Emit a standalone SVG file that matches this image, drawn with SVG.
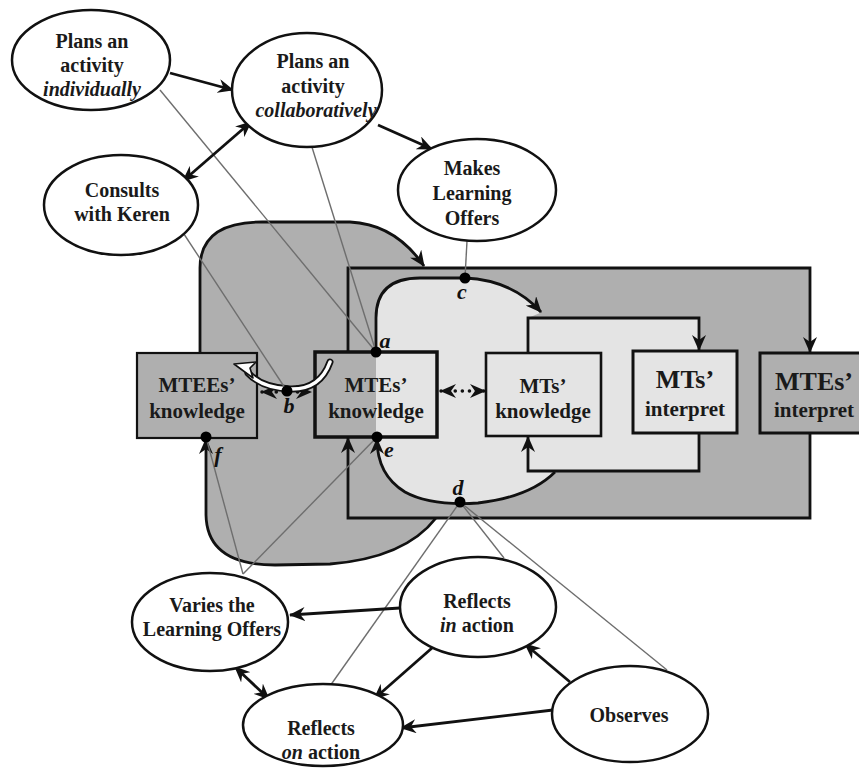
<svg xmlns="http://www.w3.org/2000/svg" width="859" height="780" viewBox="0 0 859 780">
<style>
.t{font-family:'Liberation Serif','DejaVu Serif',serif;font-weight:bold;font-size:20px;fill:#1a1a1a;text-anchor:middle}
.b{font-size:21px}
.big{font-size:26px}
.i{font-style:italic}
.lbl{font-family:'Liberation Serif','DejaVu Serif',serif;font-weight:bold;font-style:italic;font-size:22px;fill:#111;text-anchor:middle}
.ell{fill:#fff;stroke:#111;stroke-width:2.5}
.thin{fill:none;stroke:#6e6e6e;stroke-width:1.4}
.arr{fill:none;stroke:#111;stroke-width:2.8;marker-end:url(#ah)}
.dbl{fill:none;stroke:#111;stroke-width:2.8;marker-end:url(#ah);marker-start:url(#ahs)}
.dot{fill:#000}
</style>
<defs>
<marker id="ah" markerWidth="16" markerHeight="14" refX="15" refY="7" orient="auto" markerUnits="userSpaceOnUse"><path d="M0,0 L16,7 L0,14 L5,7 Z" fill="#111"/></marker>
<marker id="ahs" markerWidth="16" markerHeight="14" refX="15" refY="7" orient="auto-start-reverse" markerUnits="userSpaceOnUse"><path d="M0,0 L16,7 L0,14 L5,7 Z" fill="#111"/></marker>
</defs>
<rect width="859" height="780" fill="#fff"/>

<g id="regions">
<path d="M200,353 V268 Q200,222 262,222 L350,222 Q395,224 425,268 L348,268 L348,518 L436,518 Q405,558 330,564 L275,565 Q207,565 206,515 L206,438 Z" fill="#afafaf"/>
<rect x="348" y="268" width="462" height="250" fill="#afafaf"/>
<path d="M376,437 V318 Q376,278 420,278 L465,278 Q512,280 540,313 L528,318 H699 V471 H555 Q530,497 478,503 Q430,506 405,492 Q377,475 376,437 Z" fill="#e4e4e4"/>
</g>

<g id="mtees-knowledge"><rect x="137" y="353" width="120" height="85" fill="#afafaf" stroke="#111" stroke-width="2.2"/>
<text class="t b" x="197" y="392">MTEEs’</text><text class="t b" x="197" y="418">knowledge</text></g>
<g id="mtes-knowledge"><rect x="315" y="352" width="122" height="85" fill="none" stroke="#111" stroke-width="3.5"/>
<text class="t b" x="376" y="392">MTEs’</text><text class="t b" x="376" y="418">knowledge</text></g>
<g id="mts-knowledge"><rect x="486" y="353" width="115" height="83" fill="#e4e4e4" stroke="#111" stroke-width="2.6"/>
<text class="t b" x="543" y="393">MTs’</text><text class="t b" x="543" y="418">knowledge</text></g>
<g id="mts-interpret"><rect x="633" y="351" width="104" height="82" fill="#e4e4e4" stroke="#111" stroke-width="3"/>
<text class="t big" x="685" y="388">MTs’</text><text class="t b" x="685" y="416">interpret</text></g>
<g id="mtes-interpret"><rect x="760" y="353" width="104" height="80" fill="#afafaf" stroke="#111" stroke-width="3"/>
<text class="t big" x="814" y="390">MTEs’</text><text class="t b" x="814" y="417">interpret</text></g>

<g id="connectors">
<path class="arr" d="M200,353 V268 Q200,222 262,222 L350,222 Q395,224 424,266"/>
<path class="arr" d="M436,518 Q405,558 330,564 L275,565 Q207,565 206,515 L206,439"/>
<path class="arr" d="M348,352 V268 H810 V352"/>
<path class="arr" d="M810,433 V518 H348 V438"/>
<path class="arr" d="M376,352 V318 Q376,278 420,278 L465,278 Q512,280 541,312"/>
<path class="arr" d="M555,472 Q530,497 478,503 Q430,506 405,492 Q377,475 377,439"/>
<path class="arr" d="M528,353 V318 H699 V350"/>
<path class="arr" d="M699,433 V471 H528 V437"/>
<path d="M262,392 H311" fill="none" stroke="#111" stroke-width="3.5" stroke-dasharray="0.1 7" stroke-linecap="round" marker-start="url(#ahs)" marker-end="url(#ah)"/>
<path d="M441,391 H485" fill="none" stroke="#111" stroke-width="3.5" stroke-dasharray="0.1 7" stroke-linecap="round" marker-start="url(#ahs)" marker-end="url(#ah)"/>
<path d="M330,362 Q320,390 290,389 Q262,388 248,373" fill="none" stroke="#111" stroke-width="7" stroke-linecap="round"/>
<path d="M330,362 Q320,390 290,389 Q262,388 248,373" fill="none" stroke="#fff" stroke-width="3.5" stroke-linecap="round"/>
<path d="M234,364 L256,362 L250,368 L253,378 Z" fill="#fff" stroke="#111" stroke-width="1.6" stroke-linejoin="round"/>
<line class="thin" x1="160" y1="90" x2="376" y2="352"/>
<line class="thin" x1="311" y1="144" x2="376" y2="352"/>
<line class="thin" x1="180" y1="228" x2="287" y2="391"/>
<line class="thin" x1="467" y1="241" x2="465" y2="278"/>
<line class="thin" x1="243" y1="574" x2="206" y2="437"/>
<line class="thin" x1="243" y1="574" x2="377" y2="437"/>
<line class="thin" x1="330" y1="686" x2="460" y2="502"/>
<line class="thin" x1="504" y1="558" x2="460" y2="502"/>
<line class="thin" x1="667" y1="670" x2="460" y2="502"/>
<path class="arr" d="M170,73 L233,90"/>
<path class="arr" d="M378,125 L432,149"/>
<path class="dbl" d="M183,181 L251,122"/>
<path class="arr" d="M400,608 L290,615"/>
<path class="arr" d="M432,648 L374,699"/>
<path class="dbl" d="M235,667 L269,699"/>
<path class="arr" d="M570,682 L525,644"/>
<path class="arr" d="M553,710 L401,728"/>
</g>

<g id="points">
<circle class="dot" cx="376" cy="352" r="5.5"/><text class="lbl" x="385" y="348">a</text>
<circle class="dot" cx="287" cy="391" r="5.5"/><text class="lbl" x="289" y="413">b</text>
<circle class="dot" cx="465" cy="278" r="5.5"/><text class="lbl" x="462" y="299">c</text>
<circle class="dot" cx="460" cy="502" r="5.5"/><text class="lbl" x="458" y="495">d</text>
<circle class="dot" cx="377" cy="437" r="5.5"/><text class="lbl" x="389" y="457">e</text>
<circle class="dot" cx="206" cy="437" r="5.5"/><text class="lbl" x="218" y="462">f</text>
</g>

<g id="plans-individually"><ellipse class="ell" cx="91" cy="60" rx="79" ry="50"/>
<text class="t" x="92" y="48">Plans an</text><text class="t" x="92" y="72">activity</text><text class="t i" x="92" y="96">individually</text></g>
<g id="plans-collaboratively"><ellipse class="ell" cx="307" cy="90" rx="75" ry="57"/>
<text class="t" x="313" y="68">Plans an</text><text class="t" x="313" y="93">activity</text><text class="t i" x="316" y="117">collaboratively</text></g>
<g id="consults"><ellipse class="ell" cx="121" cy="205" rx="77" ry="50"/>
<text class="t" x="122" y="197">Consults</text><text class="t" x="122" y="221">with Keren</text></g>
<g id="makes-offers"><ellipse class="ell" cx="477" cy="190" rx="79" ry="51"/>
<text class="t" x="472" y="175">Makes</text><text class="t" x="472" y="200">Learning</text><text class="t" x="472" y="225">Offers</text></g>
<g id="varies"><ellipse class="ell" cx="210" cy="622" rx="78" ry="49"/>
<text class="t" x="212" y="612">Varies the</text><text class="t" x="212" y="636">Learning Offers</text></g>
<g id="reflects-in"><ellipse class="ell" cx="478" cy="607" rx="78" ry="50"/>
<text class="t" x="477" y="608">Reflects</text><text class="t" x="477" y="632"><tspan class="i">in</tspan> action</text></g>
<g id="reflects-on"><ellipse class="ell" cx="323" cy="725" rx="80" ry="41"/>
<text class="t" x="321" y="735">Reflects</text><text class="t" x="321" y="759"><tspan class="i">on</tspan> action</text></g>
<g id="observes"><ellipse class="ell" cx="630" cy="714" rx="78" ry="48"/>
<text class="t" x="629" y="722">Observes</text></g>
</svg>
